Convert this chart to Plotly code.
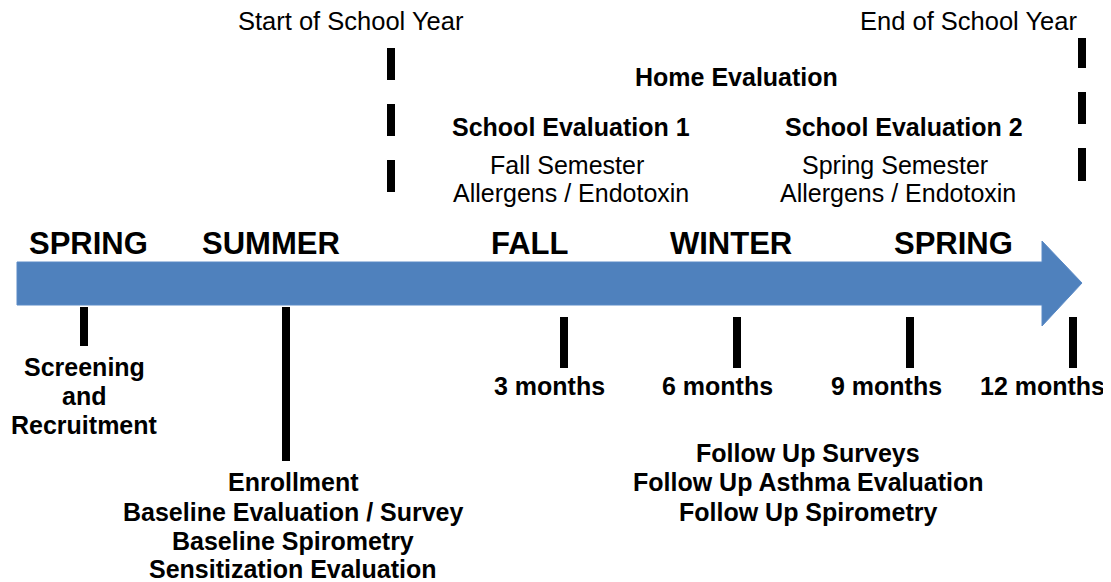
import plotly.graph_objects as go

W, H = 1111, 582
OFF = 8  # page body margin compensation
FONT = "Liberation Sans, Arial, sans-serif"

# Timeline arrow (pixel-like coordinates, y downwards)
arrow_x = [17, 1042, 1042, 1082, 1042, 1042, 17, 17]
arrow_y = [262, 262, 241, 283, 326, 305, 305, 262]

# Season labels
seasons = ["SPRING", "SUMMER", "FALL", "WINTER", "SPRING"]
season_x = [88, 271, 530, 731, 953]
season_y = 243

# Milestone ticks below the arrow: (x center, y top, y bottom)
tick_x = [84, 286, 564, 737, 910, 1073]
tick_top = [307, 307, 317, 317, 317, 317]
tick_bot = [346, 461, 368, 368, 368, 368]

# Dashed school-year markers
dash_x = [391, 1082]
dash_segments = [[(48, 80), (104, 136), (160, 192)],
                 [(38, 68), (92, 124), (148, 181)]]

# Month labels
month_labels = ["3 months", "6 months", "9 months", "12 months"]
month_x = [549, 717, 886, 1042]
month_y = 386

# Top text (regular)
top_labels = ["Start of School Year", "End of School Year"]
top_x = [351, 968]
top_y = 21

# Bold header labels
bold_labels = ["Home Evaluation", "School Evaluation 1", "School Evaluation 2"]
bold_x = [736, 571, 904]
bold_y = [77, 127, 127]

# Semester labels (regular)
sem_labels = ["Fall Semester", "Allergens / Endotoxin", "Spring Semester", "Allergens / Endotoxin"]
sem_x = [567, 571, 895, 898]
sem_y = [165, 193, 165, 193]

# Bottom bold blocks
screen_lines = ["Screening", "and", "Recruitment"]
screen_x = 84
screen_y = [367, 396, 425]

enroll_lines = ["Enrollment", "Baseline Evaluation / Survey", "Baseline Spirometry", "Sensitization Evaluation"]
enroll_x = 293
enroll_y = [482, 512, 541, 569]

follow_lines = ["Follow Up Surveys", "Follow Up Asthma Evaluation", "Follow Up Spirometry"]
follow_x = 808
follow_y = [453, 482, 512]

fig = go.Figure()
fig.add_trace(go.Scatter(x=arrow_x, y=arrow_y, mode="lines", fill="toself",
                         fillcolor="#4F81BD", line=dict(color="#5A8AC6", width=1),
                         hoverinfo="skip", showlegend=False))

shapes = []
for x, t, b in zip(tick_x, tick_top, tick_bot):
    shapes.append(dict(type="rect", x0=x - 4, x1=x + 4, y0=t, y1=b,
                       fillcolor="black", line=dict(width=0)))
for x, segs in zip(dash_x, dash_segments):
    for (t, b) in segs:
        shapes.append(dict(type="rect", x0=x - 4, x1=x + 4, y0=t, y1=b,
                           fillcolor="black", line=dict(width=0)))

ann = []
def add(text, x, y, size, bold):
    ann.append(dict(text=f"<b>{text}</b>" if bold else text, x=x, y=y,
                    xanchor="center", yanchor="middle", showarrow=False,
                    font=dict(family=FONT, size=size, color="black")))

for t, x in zip(seasons, season_x):
    add(t, x, season_y, 31, True)
for t, x in zip(month_labels, month_x):
    add(t, x, month_y, 25, True)
for t, x in zip(top_labels, top_x):
    add(t, x, top_y, 25.5, False)
for t, x, y in zip(bold_labels, bold_x, bold_y):
    add(t, x, y, 25, True)
for t, x, y in zip(sem_labels, sem_x, sem_y):
    add(t, x, y, 25, False)
for t, y in zip(screen_lines, screen_y):
    add(t, screen_x, y, 25, True)
for t, y in zip(enroll_lines, enroll_y):
    add(t, enroll_x, y, 25, True)
for t, y in zip(follow_lines, follow_y):
    add(t, follow_x, y, 25, True)

fig.update_layout(
    width=W - OFF, height=H - OFF, margin=dict(l=0, r=0, t=0, b=0, pad=0),
    paper_bgcolor="white", plot_bgcolor="white",
    xaxis=dict(range=[OFF, W], visible=False, fixedrange=True),
    yaxis=dict(range=[H, OFF], visible=False, fixedrange=True),
    shapes=shapes, annotations=ann, showlegend=False,
)
fig.write_html("out.html", config={"displayModeBar": False})
